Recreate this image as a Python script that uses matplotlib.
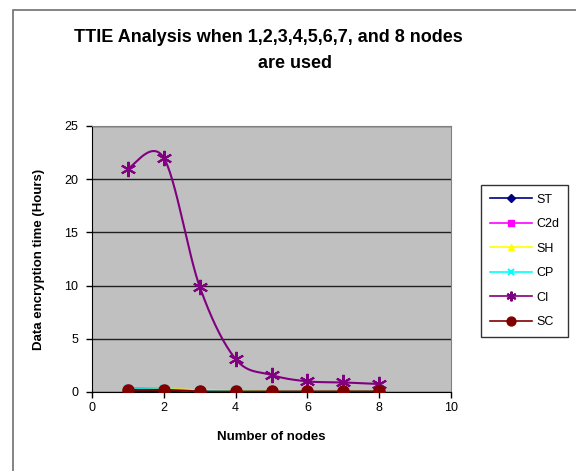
import numpy as np
import matplotlib
matplotlib.use("Agg")
import matplotlib.pyplot as plt
from matplotlib.patches import Rectangle

plt.rcParams['font.family'] = ['Liberation Sans', 'DejaVu Sans']

nodes = [1, 2, 3, 4, 5, 6, 7, 8]
st = [0.1, 0.1, 0.05, 0.03, 0.02, 0.02, 0.02, 0.02]
c2d = [0.35, 0.3, 0.1, 0.05, 0.03, 0.03, 0.03, 0.03]
sh = [0.3, 0.3, 0.15, 0.1, 0.05, 0.05, 0.05, 0.05]
cp = [0.3, 0.25, 0.1, 0.05, 0.03, 0.03, 0.03, 0.03]
ci = [21.0, 22.0, 9.9, 3.1, 1.6, 1.0, 0.9, 0.75]
sc = [0.2, 0.2, 0.05, 0.05, 0.05, 0.05, 0.05, 0.05]

series = [
    ("ST", st, "#000080", "D", 5),
    ("C2d", c2d, "#FF00FF", "s", 5),
    ("SH", sh, "#FFFF00", "^", 6),
    ("CP", cp, "#00FFFF", "x", 6),
    ("CI", ci, "#800080", (6, 2, 0), 11),
    ("SC", sc, "#800000", "o", 8),
]


def smooth(x, y, n=30):
    x = np.asarray(x, float)
    y = np.asarray(y, float)
    px = np.concatenate([[x[0]], x, [x[-1]]])
    py = np.concatenate([[y[0]], y, [y[-1]]])
    xs, ys = [], []
    t = np.linspace(0, 1, n)
    for i in range(1, len(px) - 2):
        p0 = np.array([px[i], py[i]])
        p3 = np.array([px[i + 1], py[i + 1]])
        p1 = p0 + (np.array([px[i + 1], py[i + 1]]) - np.array([px[i - 1], py[i - 1]])) / 6
        p2 = p3 - (np.array([px[i + 2], py[i + 2]]) - np.array([px[i], py[i]])) / 6
        b = ((1 - t) ** 3)[:, None] * p0 + (3 * (1 - t) ** 2 * t)[:, None] * p1 \
            + (3 * (1 - t) * t ** 2)[:, None] * p2 + (t ** 3)[:, None] * p3
        xs.extend(b[:, 0])
        ys.extend(b[:, 1])
    return np.array(xs), np.array(ys)


fig = plt.figure(figsize=(5.76, 4.71), dpi=100)
fig.patches.append(Rectangle((13 / 576, -0.1), 1.2, 1 - 10 / 471 + 0.1,
                             transform=fig.transFigure, fill=False,
                             edgecolor="#707070", linewidth=1.2))

ax = fig.add_axes([92 / 576, 1 - 392 / 471, (451 - 92) / 576, (392 - 126) / 471])
ax.set_facecolor("#C0C0C0")

for name, vals, col, mk, ms in series:
    sx, sy = smooth(nodes, vals)
    ax.plot(sx, sy, color=col, linewidth=1.5, zorder=3)
    ax.plot(nodes, vals, linestyle="none", marker=mk, color=col,
            markersize=ms, markeredgewidth=1.5 if mk in ("x", (6, 2, 0)) else 1,
            zorder=4)

handles = []
for name, vals, col, mk, ms in series:
    h, = ax.plot([], [], color=col, marker=mk, markersize=min(ms * 0.8, 7),
                 linewidth=1.2, markeredgewidth=1.5 if mk in ("x", (6, 2, 0)) else 1,
                 label=name)
    handles.append(h)

ax.set_xlim(0, 10)
ax.set_ylim(0, 25)
ax.set_xticks(range(0, 11, 2))
ax.set_yticks(range(0, 26, 5))
ax.yaxis.grid(True, color="#202020", linewidth=1)
ax.set_axisbelow(True)
ax.tick_params(labelsize=9, direction="out", length=4, width=1, colors="black")
ax.tick_params(axis="y", pad=6)
for s in ("top", "right"):
    ax.spines[s].set_color("#808080")
for s in ("left", "bottom"):
    ax.spines[s].set_color("black")

ax.set_xlabel("Number of nodes", fontsize=9.5, fontweight="bold", labelpad=12)
ax.set_ylabel("Data encryption time (Hours)", fontsize=9.5, fontweight="bold",
              labelpad=14)

fig.text(268 / 576, 1 - 38 / 471, "TTIE Analysis when 1,2,3,4,5,6,7, and 8 nodes",
         ha="center", va="center", fontsize=13, fontweight="bold")
fig.text(295 / 576, 1 - 64 / 471, "are used",
         ha="center", va="center", fontsize=13, fontweight="bold")

leg = fig.legend(handles=handles, loc="upper left",
                 bbox_to_anchor=(481 / 576, 1 - 185 / 471),
                 borderaxespad=0,
                 frameon=True, fancybox=False, edgecolor="black",
                 fontsize=9, handlelength=3.4, labelspacing=1.0,
                 borderpad=0.7, handletextpad=0.3)
leg.get_frame().set_linewidth(1)

fig.savefig("out.png", dpi=100)
